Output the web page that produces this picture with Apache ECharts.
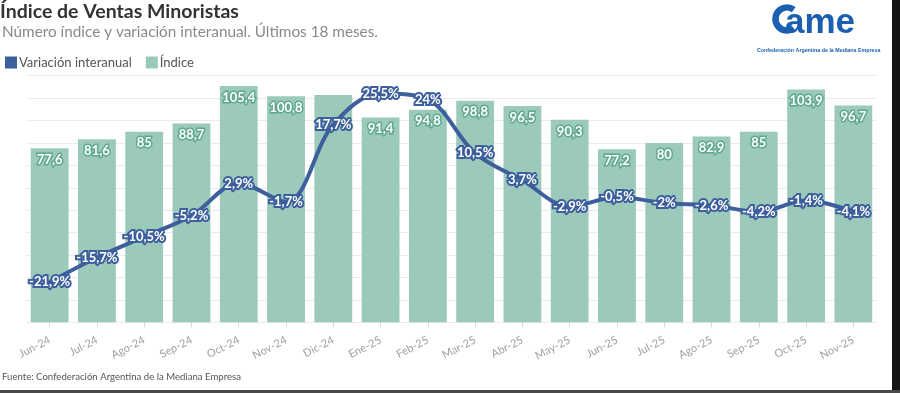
<!DOCTYPE html>
<html>
<head>
<meta charset="utf-8">
<script src="https://cdn.jsdelivr.net/npm/echarts@6/dist/echarts.min.js"></script>
<style>
  html,body{margin:0;padding:0;background:#fff;}
  #chart{width:900px;height:393px;position:absolute;left:0;top:0;}
  #rb{position:absolute;left:892px;top:0;width:8px;height:393px;background:#151515;}
  #bb{position:absolute;left:0;top:390px;width:900px;height:3px;background:#4a4a4a;}
</style>
</head>
<body>
<div id="chart"></div>
<div id="rb"></div>
<div id="bb"></div>
<script>
const categories = ['Jun-24','Jul-24','Ago-24','Sep-24','Oct-24','Nov-24','Dic-24','Ene-25','Feb-25','Mar-25','Abr-25','May-25','Jun-25','Jul-25','Ago-25','Sep-25','Oct-25','Nov-25'];
const indice = [77.6, 81.6, 85, 88.7, 105.4, 100.8, 101.4, 91.4, 94.8, 98.8, 96.5, 90.3, 77.2, 80, 82.9, 85, 103.9, 96.7];
const variacion = [-21.9, -15.7, -10.5, -5.2, 2.9, -1.7, 17.7, 25.5, 24, 10.5, 3.7, -2.9, -0.5, -2, -2.6, -4.2, -1.4, -4.1];
const hiddenBarLabels = ['Dic-24'];

const BAR = '#9bcabb';
const BAR_EDGE = '#5fa88e';
const LINE = '#3d5f9d';
const LOGO = '#1c5fb0';
const FONT = 'Lato';
const fmt = v => String(v).replace('.', ',');

const chart = echarts.init(document.getElementById('chart'), null, {renderer: 'canvas'});
chart.setOption({
  animation: false,
  textStyle: {fontFamily: FONT},
  graphic: [
    {type: 'text', left: 0, top: 2, style: {text: 'Índice de Ventas Minoristas', font: 'bold 19.5px ' + FONT, fill: '#333'}},
    {type: 'text', left: 2, top: 25, style: {text: 'Número índice y variación interanual. Últimos 18 meses.', font: '15.3px ' + FONT, fill: '#8a8a8a'}},
    {type: 'text', left: 2, top: 372, style: {text: 'Fuente: Confederación Argentina de la Mediana Empresa', font: '9.6px ' + FONT, fill: '#555'}},
    {type: 'arc', shape: {cx: 787, cy: 19, r: 11.5, startAngle: Math.PI * 0.3, endAngle: Math.PI * 1.7, clockwise: true},
      style: {stroke: LOGO, lineWidth: 6.5, fill: null}},
    {type: 'text', left: 785, top: 6, style: {text: 'ame', font: 'bold 35px Arial', fill: LOGO}},
    {type: 'text', left: 757, top: 48, style: {text: 'Confederación Argentina de la Mediana Empresa', font: 'bold 5.3px Arial', fill: LOGO}}
  ],
  legend: {
    left: 0, top: 51,
    itemWidth: 12, itemHeight: 12, itemGap: 14,
    icon: 'rect',
    textStyle: {fontSize: 13, color: '#555', fontFamily: FONT, padding: [0, 0, 0, -3]},
    data: [
      {name: 'Variación interanual', itemStyle: {color: LINE}},
      {name: 'Índice', itemStyle: {color: BAR}}
    ]
  },
  grid: {left: 26, right: 23, top: 75.7, bottom: 70.7, containLabel: false},
  xAxis: {
    type: 'category',
    data: categories,
    axisLine: {show: false},
    axisTick: {show: true, alignWithLabel: true, length: 5, lineStyle: {color: '#d8d8d8'}},
    axisLabel: {rotate: 27, margin: 17, fontSize: 11, color: '#a0a0a0', fontFamily: FONT}
  },
  yAxis: [
    {type: 'value', min: 0, max: 110, interval: 10, axisLabel: {show: false}, axisLine: {show: false}, axisTick: {show: false},
      splitLine: {lineStyle: {color: '#ebebeb', width: 1}}},
    {type: 'value', min: -32, max: 30, show: false, splitLine: {show: false}}
  ],
  series: [
    {
      name: 'Índice', type: 'bar', yAxisIndex: 0,
      barCategoryGap: '20%',
      itemStyle: {color: BAR},
      data: indice.map((v, i) => hiddenBarLabels.includes(categories[i]) ? {value: v, label: {show: false}} : v),
      label: {
        show: true, position: 'insideTop', distance: 5,
        formatter: p => fmt(p.value),
        color: '#fff', fontSize: 13, fontWeight: 'bold', fontFamily: FONT,
        textBorderColor: BAR_EDGE, textBorderWidth: 3
      },
      z: 2
    },
    {
      name: 'Variación interanual', type: 'line', yAxisIndex: 1,
      smooth: 0.35,
      symbol: 'circle', symbolSize: 4,
      lineStyle: {color: LINE, width: 4},
      itemStyle: {color: LINE},
      data: variacion,
      label: {
        show: true, position: 'inside',
        formatter: p => fmt(p.value) + '%',
        color: '#fff', fontSize: 13, fontWeight: 'bold', fontFamily: FONT,
        textBorderColor: LINE, textBorderWidth: 4
      },
      z: 5
    }
  ]
});
</script>
</body>
</html>
